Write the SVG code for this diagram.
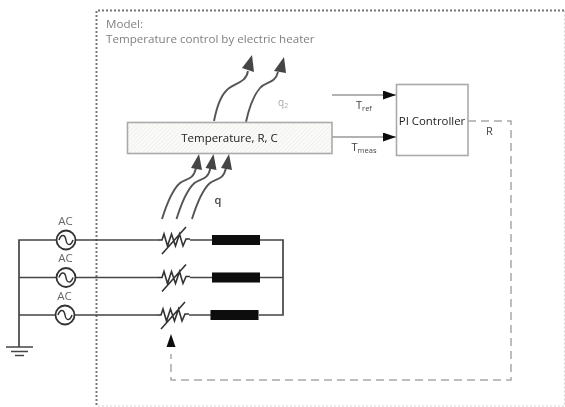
<svg xmlns="http://www.w3.org/2000/svg" width="565" height="407" viewBox="0 0 565 407">
<defs>
<filter id="soft" x="-2%" y="-2%" width="104%" height="104%"><feGaussianBlur stdDeviation="0.5"/></filter>
<pattern id="hatch" width="3" height="3" patternUnits="userSpaceOnUse" patternTransform="rotate(-45)"><rect width="3" height="3" fill="#fbfbf9"/><path d="M0 1.500H3" stroke="#ebebe8" stroke-width="0.700"/></pattern>
<marker id="blk" markerUnits="userSpaceOnUse" markerWidth="14" markerHeight="10" refX="13" refY="4.500" orient="auto"><path d="M0 0L13 4.500L0 9Z" fill="#111"/></marker>
<path id="res" d="M-13 0H-9L-7 -6L-3.500 6L0.500 -6L4.500 6L8.500 -6L12 6L15 -1H19M-9 14L15 -13" fill="none" stroke="#333" stroke-width="1.600"/>
<g id="src"><circle r="9.500" fill="#fff" stroke="#333" stroke-width="1.800"/><path d="M-7 0C-5 -6 -1 -6 0 0C1 6 5 6 7 0" fill="none" stroke="#333" stroke-width="1.500"/></g>
<g id="heat-low"><path d="M162 219C167 203 172 190 180 183C186 178 193 181 196 168" fill="none" stroke="#555" stroke-width="1.900"/><path d="M199 154L191 168L202 170Z" fill="#444"/></g>
</defs>
<style>
text{font-family:"Open Sans","Liberation Sans",sans-serif}
.wire{fill:none;stroke:#444;stroke-width:1.700}
.heat{fill:none;stroke:#555;stroke-width:1.900}
.head{fill:#444}
.sig{fill:none;stroke:#666;stroke-width:1.200;marker-end:url(#blk)}
.dash{fill:none;stroke:#a8a8a8;stroke-width:1.500;stroke-dasharray:8 5}
.box{stroke:#aaa;stroke-width:1.600}
.lab{fill:#666;font-size:11.500px}
.ind{fill:#0a0a0a}
</style>
<g filter="url(#soft)">
<g id="model-frame">
<path d="M96.500 405V10.500H565" fill="none" stroke="#777" stroke-width="2" stroke-dasharray="2 2"/>
<path d="M564.500 10.500V406H96.500" fill="none" stroke="#d4d4d4" stroke-width="1" stroke-dasharray="2 2"/>
<text x="106" y="27.500" font-size="11.600" fill="#808080">Model:</text>
<text x="106" y="43" font-size="11.600" fill="#808080">Temperature control by electric heater</text>
</g>
<g id="connectors">
<path class="wire" d="M19 347V240H57M19 277.500H57M19 315H56M75.500 240H158M75.500 277.500H158M74.500 315H157"/>
<path class="wire" d="M190 240H212M190 277.500H212M189 315H211M260 240H283V315H259M260 277.500H283"/>
<path class="heat" d="M214 121C217 106 221 96 226 91C232 83 246 84 248 71"/>
<path class="head" d="M252 55L242 68L254 72Z"/>
<path class="heat" d="M246 122C249 108 254 95 260 88C266 81 275 84 278 72"/>
<path class="head" d="M284 57L274 71L286 73Z"/>
<use href="#heat-low"/>
<use href="#heat-low" x="14.500"/>
<use href="#heat-low" x="30"/>
<path class="sig" d="M332 95H396"/>
<path class="sig" d="M332 137H396"/>
<path class="dash" d="M468 121H511V380H171V354"/>
<path d="M171 334L175.500 347H166.500Z" fill="#111"/>
</g>
<g id="temperature"><rect class="box" x="127.500" y="122.500" width="204.500" height="31" fill="url(#hatch)"/><text x="229.500" y="142" font-size="11.500" fill="#222" text-anchor="middle">Temperature, R, C</text></g>
<g id="pi-controller"><rect class="box" x="396.500" y="84.500" width="71.500" height="71" fill="#fff"/><text x="432" y="124.500" font-size="11.400" font-weight="500" fill="#222" text-anchor="middle">PI Controller</text></g>
<g id="source-1"><use href="#src" x="66" y="240"/><text x="65.500" y="225" class="lab" text-anchor="middle">AC</text></g>
<g id="source-2"><use href="#src" x="66" y="277.500"/><text x="65.500" y="262" class="lab" text-anchor="middle">AC</text></g>
<g id="source-3"><use href="#src" x="65" y="315"/><text x="64.500" y="300" class="lab" text-anchor="middle">AC</text></g>
<g id="ground"><path d="M6 347H33M11 351.500H28M15 355.500H24" stroke="#444" stroke-width="1.600"/></g>
<g id="resistor-1"><use href="#res" x="171" y="240"/></g>
<g id="resistor-2"><use href="#res" x="171" y="277.500"/></g>
<g id="resistor-3"><use href="#res" x="170" y="315"/></g>
<g id="inductor-1"><rect class="ind" x="212" y="235" width="48" height="10"/></g>
<g id="inductor-2"><rect class="ind" x="212" y="272.500" width="48" height="10"/></g>
<g id="inductor-3"><rect class="ind" x="210.500" y="310" width="48" height="10"/></g>
<g id="labels">
<text x="214.500" y="204" font-size="11" font-weight="600" fill="#444">q</text>
<text x="278" y="106" font-size="10" fill="#aaa">q<tspan font-size="7" dy="2">2</tspan></text>
<text x="356" y="109" font-size="11" fill="#444">T<tspan font-size="7.500" dy="2">ref</tspan></text>
<text x="351.500" y="151" font-size="11" fill="#444">T<tspan font-size="7.500" dy="2">meas</tspan></text>
<text x="486" y="135" font-size="11" fill="#444">R</text>
</g>
</g>
</svg>
